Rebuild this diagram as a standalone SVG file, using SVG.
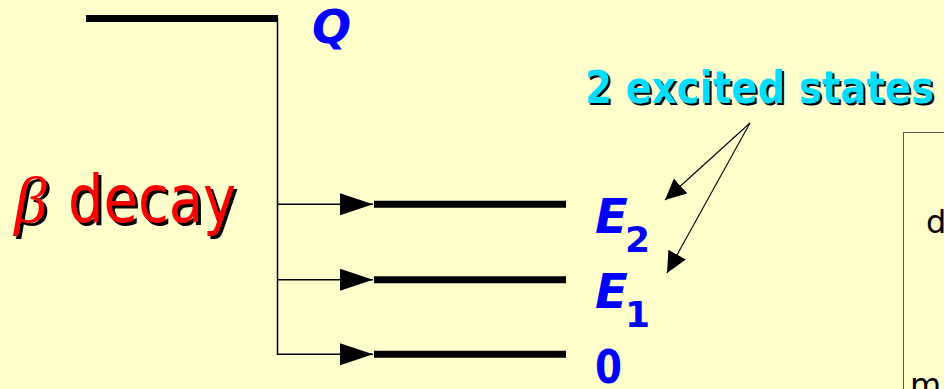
<svg xmlns="http://www.w3.org/2000/svg" width="944" height="389" viewBox="0 0 944 389">
  <style>
    .bg { fill: #FFFFCC; }
    .level { stroke: #000; stroke-width: 7; fill: none; }
    .wire { stroke: #000; stroke-width: 1.5; fill: none; }
    .pointer { stroke: #000; stroke-width: 1.1; fill: none; }
    .blue { fill: #0000FF; font-family: "DejaVu Sans", Verdana, sans-serif; font-weight: bold; }
    .shadow { fill: #000; }
    .big { font-family: "DejaVu Sans", Verdana, sans-serif; font-size: 65px; }
    .greek { font-family: "Liberation Serif", "DejaVu Serif", serif; font-style: italic; font-size: 66px; }
    .cyan-t { font-family: "DejaVu Sans", Verdana, sans-serif; font-weight: bold; font-size: 44px; }
    .note { fill: #000; font-family: "DejaVu Sans", Verdana, sans-serif; font-size: 32px; }
  </style>
  <defs>
    <marker id="tri" markerUnits="userSpaceOnUse" markerWidth="33" markerHeight="22" refX="33" refY="11" orient="auto">
      <path d="M0,0 L33,11 L0,22 Z" fill="#000"/>
    </marker>
    <marker id="ptr" markerUnits="userSpaceOnUse" markerWidth="22" markerHeight="20" refX="21" refY="10" orient="auto">
      <path d="M0,0 L21,10 L0,20 Z" fill="#000"/>
    </marker>
  </defs>

  <rect class="bg" x="0" y="0" width="944" height="389"/>

  <!-- parent level Q -->
  <g id="level-Q">
    <line class="level" x1="86" y1="18.5" x2="278" y2="18.5"/>
    <text class="blue" x="312" y="43" font-size="46" font-style="italic">Q</text>
  </g>

  <!-- daughter levels -->
  <g id="level-E2">
    <line class="level" x1="374" y1="204.3" x2="566" y2="204.3"/>
    <text class="blue" x="595" y="233" font-size="48" font-style="italic">E</text>
    <text class="blue" x="625" y="252" font-size="36">2</text>
  </g>
  <g id="level-E1">
    <line class="level" x1="374" y1="279.7" x2="566" y2="279.7"/>
    <text class="blue" x="595" y="308" font-size="48" font-style="italic">E</text>
    <text class="blue" x="625" y="327" font-size="36">1</text>
  </g>
  <g id="level-0">
    <line class="level" x1="374" y1="354.3" x2="566" y2="354.3"/>
    <text class="blue" x="595" y="383" font-size="46" textLength="27" lengthAdjust="spacingAndGlyphs">0</text>
  </g>

  <!-- β decay label with drop shadow -->
  <g id="label-beta">
    <text class="greek shadow" x="17" y="225">β</text>
    <text class="big shadow" x="71" y="225" textLength="168" lengthAdjust="spacingAndGlyphs">decay</text>
    <text class="greek" x="14" y="222" fill="#FF0000">β</text>
    <text class="big" x="68" y="222" fill="#FF0000" textLength="168" lengthAdjust="spacingAndGlyphs">decay</text>
  </g>

  <!-- excited-states callout with drop shadow -->
  <g id="label-excited">
    <text class="cyan-t shadow" x="587" y="105" textLength="349" lengthAdjust="spacingAndGlyphs">2 excited states</text>
    <text class="cyan-t" x="585" y="103" fill="#00DDFF" textLength="349" lengthAdjust="spacingAndGlyphs">2 excited states</text>
  </g>

  <!-- side box, partly outside the frame -->
  <g id="side-box">
    <rect x="903.5" y="132.5" width="80" height="300" fill="none" stroke="#555" stroke-width="1"/>
    <text class="note" x="926" y="233">d</text>
    <text class="note" x="910" y="396">m</text>
  </g>

  <!-- connectors -->
  <g id="connectors">
    <polyline class="wire" points="277.5,18 277.5,354.3 373,354.3" marker-end="url(#tri)"/>
    <line class="wire" x1="277.5" y1="204.3" x2="373" y2="204.3" marker-end="url(#tri)"/>
    <line class="wire" x1="277.5" y1="279.7" x2="373" y2="279.7" marker-end="url(#tri)"/>
    <line class="pointer" x1="750" y1="123" x2="665" y2="200" marker-end="url(#ptr)"/>
    <line class="pointer" x1="750" y1="123" x2="667" y2="273" marker-end="url(#ptr)"/>
  </g>
</svg>
